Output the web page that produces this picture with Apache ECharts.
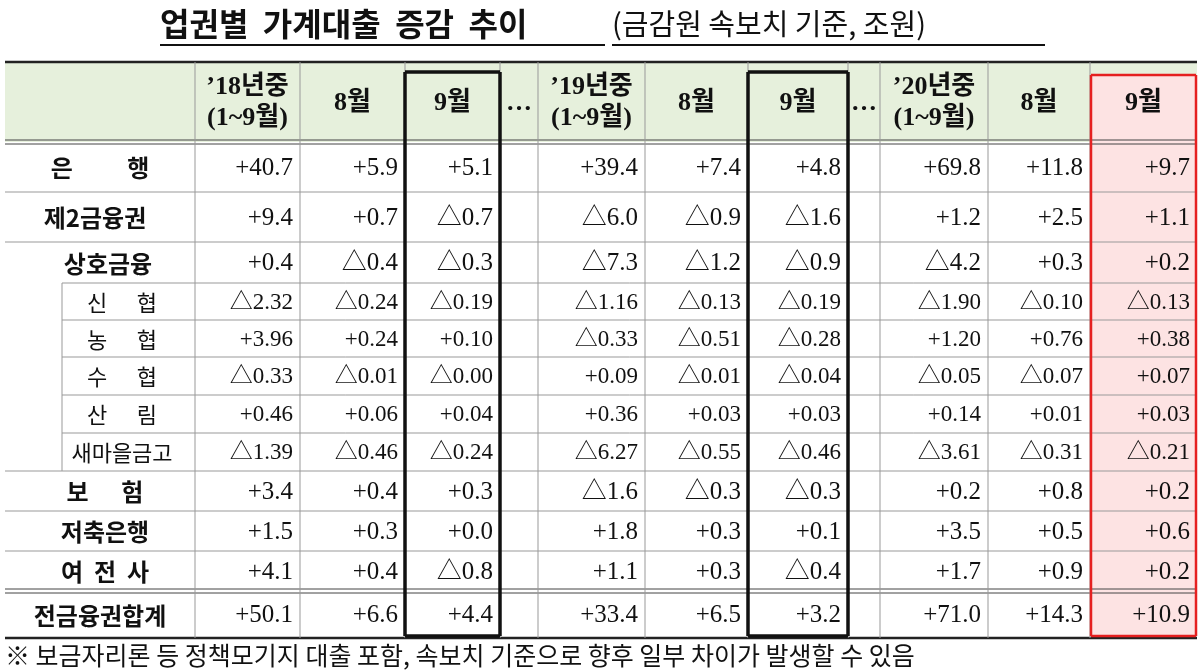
<!DOCTYPE html>
<html><head><meta charset="utf-8">
<script src="https://cdn.jsdelivr.net/npm/echarts@6/dist/echarts.min.js"></script>
<style>html,body{margin:0;background:#fff}#c{width:1200px;height:670px}</style>
</head><body><div id="c"></div>
<script>
// ---- data ----
const rowLabels = ['은          행','제2금융권','상호금융','신      협','농      협','수      협','산      림','새마을금고','보      험','저축은행','여  전  사','전금융권합계'];
const colHeaders = ['\u201918년중\n(1~9월)','8월','9월','…','\u201919년중\n(1~9월)','8월','9월','…','\u201920년중\n(1~9월)','8월','9월'];
const y18 = ['+40.7','+9.4','+0.4','△2.32','+3.96','△0.33','+0.46','△1.39','+3.4','+1.5','+4.1','+50.1'];
const aug18 = ['+5.9','+0.7','△0.4','△0.24','+0.24','△0.01','+0.06','△0.46','+0.4','+0.3','+0.4','+6.6'];
const sep18 = ['+5.1','△0.7','△0.3','△0.19','+0.10','△0.00','+0.04','△0.24','+0.3','+0.0','△0.8','+4.4'];
const y19 = ['+39.4','△6.0','△7.3','△1.16','△0.33','+0.09','+0.36','△6.27','△1.6','+1.8','+1.1','+33.4'];
const aug19 = ['+7.4','△0.9','△1.2','△0.13','△0.51','△0.01','+0.03','△0.55','△0.3','+0.3','+0.3','+6.5'];
const sep19 = ['+4.8','△1.6','△0.9','△0.19','△0.28','△0.04','+0.03','△0.46','△0.3','+0.1','△0.4','+3.2'];
const y20 = ['+69.8','+1.2','△4.2','△1.90','+1.20','△0.05','+0.14','△3.61','+0.2','+3.5','+1.7','+71.0'];
const aug20 = ['+11.8','+2.5','+0.3','△0.10','+0.76','△0.07','+0.01','△0.31','+0.8','+0.5','+0.9','+14.3'];
const sep20 = ['+9.7','+1.1','+0.2','△0.13','+0.38','+0.07','+0.03','△0.21','+0.2','+0.6','+0.2','+10.9'];
const titleMain = '업권별  가계대출  증감  추이';
const titleSub = '(금감원 속보치 기준, 조원)';
const footnote = '※ 보금자리론 등 정책모기지 대출 포함, 속보치 기준으로 향후 일부 차이가 발생할 수 있음';

// ---- layout (positions only) ----
const colEdges = [5,195,300,405,500,538,645,748,848,880,988,1090,1197];
const rowEdges = [62,142,192,242,283,320,357,395,433,471,511,551,591,638];
const labelCx = [100,95,108,122,122,122,122,122,105,105,105,100];
const subRows = [3,4,5,6,7];
const cols = [y18,aug18,sep18,null,y19,aug19,sep19,null,y20,aug20,sep20];

// ---- build cells ----
const cells = [];
colHeaders.forEach((h,i)=>{
  cells.push({x0:colEdges[i+1],x1:colEdges[i+2],y0:rowEdges[0],y1:rowEdges[1],text:h,align:'center',bold:true,size:26});
});
rowLabels.forEach((l,r)=>{
  const sub = subRows.includes(r);
  cells.push({x0:labelCx[r]-90,x1:labelCx[r]+90,y0:rowEdges[r+1],y1:rowEdges[r+2],text:l,align:'center',bold:!sub,size:sub?22:24,cjk:true});
  cols.forEach((arr,c)=>{
    const x0=colEdges[c+1],x1=colEdges[c+2];
    const t = arr?arr[r]:'';
    cells.push({x0,x1,y0:rowEdges[r+1],y1:rowEdges[r+2],text:t,align:'right',bold:false,size:sub?23:25});
  });
});
// lines
const lines = [];
const L=(x0,y0,x1,y1,w,c)=>lines.push({x0,y0,x1,y1,w:w||1,c:c||'#888'});
L(5,62,1197,62,2.5,'#222');
L(5,140,1197,140,1,'#444');L(5,144,1197,144,1,'#444');
for(let r=2;r<rowEdges.length-1;r++){
  if(r===12){L(5,589,1197,589,1,'#444');L(5,593,1197,593,1,'#444');continue;}
  const sub = r>=4 && r<=8;
  L(sub?62:5,rowEdges[r],1197,rowEdges[r],1,'#999');
}
L(5,638,1197,638,2.5,'#222');
L(62,283,62,471,1,'#999');
for(let i=1;i<colEdges.length-1;i++) L(colEdges[i],62,colEdges[i],638,1,'#999');
const box=(x0,y0,x1,y1,w,c)=>{L(x0,y0,x1,y0,w,c);L(x0,y1,x1,y1,w,c);L(x0,y0,x0,y1,w,c);L(x1,y0,x1,y1,w,c);};
box(405,72,500,636,3.5,'#111');
box(748,72,848,636,3.5,'#111');
box(1091,75,1196,636,2.5,'#e52020');

const chart = echarts.init(document.getElementById('c'));
chart.setOption({
  animation:false,
  grid:{left:0,right:0,top:0,bottom:0},
  xAxis:{type:'value',min:0,max:1200,show:false},
  yAxis:{type:'value',min:0,max:670,inverse:true,show:false},
  series:[
    {type:'custom',coordinateSystem:'cartesian2d',silent:true,z:1,
     data:[[0]],
     renderItem:(p,api)=>{
       const a=api.coord([5,62]),b=api.coord([1197,142]);
       const pa=api.coord([1090,75]),pb=api.coord([1197,638]);
       return {type:'group',children:[
         {type:'rect',shape:{x:a[0],y:a[1],width:b[0]-a[0],height:b[1]-a[1]},style:{fill:'#e6f0dc'}},
         {type:'rect',shape:{x:pa[0],y:pa[1],width:pb[0]-pa[0],height:pb[1]-pa[1]},style:{fill:'#fde3e3'}}
       ]};
     }},
    {type:'custom',coordinateSystem:'cartesian2d',silent:true,z:2,
     data:lines.map((l,i)=>[i]),
     renderItem:(p,api)=>{
       const l=lines[p.dataIndex];const a=api.coord([l.x0,l.y0]),b=api.coord([l.x1,l.y1]);
       return {type:'line',shape:{x1:a[0],y1:a[1],x2:b[0],y2:b[1]},style:{stroke:l.c,lineWidth:l.w}};
     }},
    {type:'custom',coordinateSystem:'cartesian2d',silent:true,z:3,
     data:cells.map((c,i)=>[i]),
     renderItem:(p,api)=>{
       const c=cells[p.dataIndex];const a=api.coord([c.x0,c.y0]),b=api.coord([c.x1,c.y1]);
       const x = c.align==='right'?b[0]-7:(a[0]+b[0])/2;
       return {type:'text',style:{text:c.text,x:x,y:(a[1]+b[1])/2+1,align:c.align,verticalAlign:'middle',
         fontSize:c.size,fontWeight:c.bold?'bold':'normal',lineHeight:31,fill:'#111',
         fontFamily:c.cjk?'"Noto Sans CJK KR"':'"Liberation Serif","Noto Sans CJK KR",serif'}};
     }},
    {type:'custom',coordinateSystem:'cartesian2d',silent:true,z:3,
     data:[[0]],
     renderItem:(p,api)=>{
       const t=api.coord([160,24]),s=api.coord([612,24]),f=api.coord([5,655]);
       return {type:'group',children:[
         {type:'text',style:{text:titleMain,x:t[0],y:t[1],align:'left',verticalAlign:'middle',fontSize:32,fontWeight:'bold',fill:'#111',fontFamily:'"Noto Sans CJK KR"'}},
         {type:'line',shape:{x1:t[0],y1:t[1]+21,x2:t[0]+445,y2:t[1]+21},style:{stroke:'#111',lineWidth:2}},
         {type:'text',style:{text:titleSub,x:s[0],y:s[1],align:'left',verticalAlign:'middle',fontSize:29,fill:'#111',fontFamily:'"Noto Sans CJK KR"'}},
         {type:'line',shape:{x1:s[0],y1:s[1]+21,x2:s[0]+433,y2:s[1]+21},style:{stroke:'#111',lineWidth:2}},
         {type:'text',style:{text:footnote,x:f[0],y:f[1],align:'left',verticalAlign:'middle',fontSize:25,fill:'#111',fontFamily:'"Noto Sans CJK KR"'}}
       ]};
     }}
  ]
});
</script></body></html>
